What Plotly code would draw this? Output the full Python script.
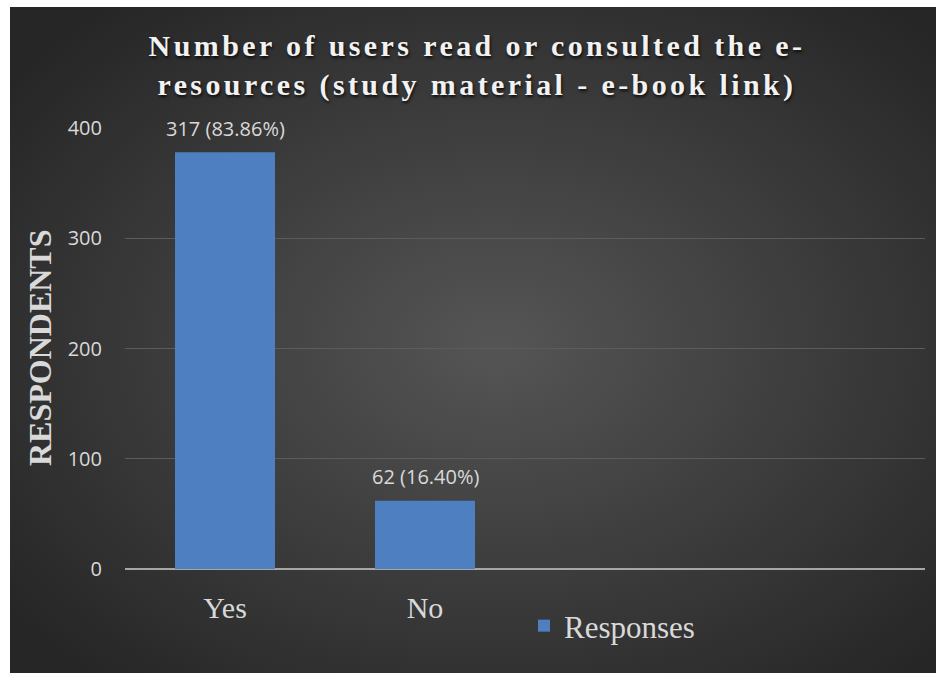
import base64
import plotly.graph_objects as go

categories = ["Yes", "No"]
respondents = [378, 62]
bar_labels = ["317 (83.86%)", "62 (16.40%)"]
y_ticks = [0, 100, 200, 300, 400]
series_name = "Responses"
title_text = "Number of users read or consulted the e-<br>resources (study material - e-book link)"
y_title = "RESPONDENTS"

# plot area in pixels
W, H = 936, 673
L, R, T, B = 125, 11, 128, 104
pw, ph = W - L - R, H - T - B

svg = (
    "<svg xmlns='http://www.w3.org/2000/svg' width='936' height='676' viewBox='0 0 936 676' preserveAspectRatio='none'>"
    "<defs><radialGradient id='g' cx='52%' cy='50%' r='65%'>"
    "<stop offset='0' stop-color='#555555'/><stop offset='1' stop-color='#262626'/>"
    "</radialGradient></defs><rect width='936' height='676' fill='url(#g)'/></svg>"
)
bg_uri = "data:image/svg+xml;base64," + base64.b64encode(svg.encode()).decode()

fig = go.Figure()
fig.add_trace(go.Bar(
    x=categories, y=respondents, name=series_name,
    marker=dict(color="#4e7fc1", line=dict(width=0)),
    width=0.5, showlegend=True,
))

for c, v, t in zip(categories, respondents, bar_labels):
    fig.add_annotation(x=c, y=v, text=t, showarrow=False, yshift=24,
                       font=dict(family="Open Sans", size=20, color="#d9d9d9"))

fig.add_annotation(xref="paper", yref="paper", x=(40 - L) / pw, y=(569 - 348) / ph,
                   xanchor="center", yanchor="middle",
                   text="<b>" + y_title + "</b>", textangle=-90, showarrow=False,
                   font=dict(family="Liberation Serif", size=32, color="#d9d9d9"))

# white outer strips (top and left) of the chart frame
fig.add_shape(type="rect", xref="paper", yref="paper", layer="below",
              x0=(0 - L) / pw - 0.05, x1=(10 - L) / pw, y0=(569 - 700) / ph, y1=(569 + 20) / ph,
              fillcolor="#ffffff", line=dict(width=0))
fig.add_shape(type="rect", xref="paper", yref="paper", layer="below",
              x0=(0 - L) / pw - 0.05, x1=(960 - L) / pw, y0=(569 - 7) / ph, y1=(569 + 20) / ph,
              fillcolor="#ffffff", line=dict(width=0))

fig.update_layout(
    width=W, height=H,
    margin=dict(l=L, r=R, t=T, b=B, autoexpand=False),
    paper_bgcolor="#262626",
    plot_bgcolor="rgba(0,0,0,0)",
    title=dict(text="<b>" + title_text + "</b>", x=477 / W, xref="container", xanchor="center",
               y=1 - 56 / H, yref="container", yanchor="middle",
               font=dict(family="Liberation Serif", size=30, color="#f2f2f2",
                         shadow="1px 2px 3px rgba(0,0,0,0.8)")),
    images=[dict(source=bg_uri, xref="paper", yref="paper",
                 x=(10 - L) / pw, y=(569 - 7) / ph,
                 sizex=936 / pw, sizey=676 / ph,
                 xanchor="left", yanchor="top", sizing="stretch", layer="below")],
    xaxis=dict(range=[-0.5, 3.5], showgrid=False, showline=False, zeroline=False,
               ticks="", ticklabelstandoff=18, automargin=False,
               tickfont=dict(family="Liberation Serif", size=30, color="#d9d9d9")),
    yaxis=dict(range=[0, 400], tickvals=y_ticks, showgrid=True, gridcolor="#5c5c5c",
               gridwidth=1, zeroline=True, zerolinecolor="#a6a6a6", zerolinewidth=2,
               showline=False, ticks="", ticklabelstandoff=22, automargin=False,
               tickfont=dict(family="Open Sans", size=20, color="#d9d9d9")),
    legend=dict(x=(524 - L) / pw, y=(569 - 599) / ph, xanchor="left", yanchor="top",
                orientation="h", bgcolor="rgba(0,0,0,0)", itemwidth=30,
                font=dict(family="Liberation Serif", size=31, color="#d9d9d9")),
    bargap=0.5,
)

fig.write_html("out.html", config={"displayModeBar": False}, post_script=(
    "var s=document.createElement('style');"
    "s.textContent='html,body{margin:0;padding:0;overflow:hidden;background:#262626}.gtitle{letter-spacing:3.4px}';"
    "document.head.appendChild(s);"
))
